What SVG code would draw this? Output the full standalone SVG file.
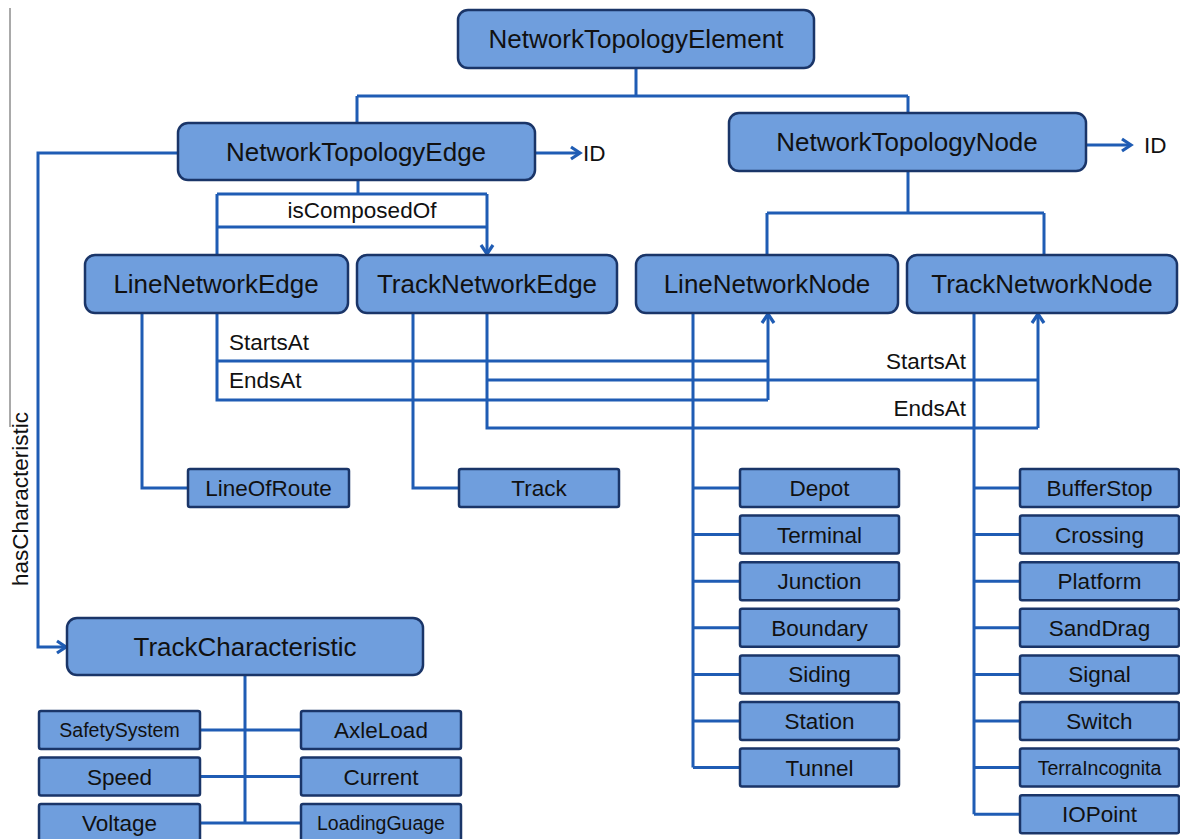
<svg xmlns="http://www.w3.org/2000/svg" width="1180" height="839" viewBox="0 0 1180 839">
<defs>
<style>
.big{fill:#6f9edd;stroke:#1a3568;stroke-width:2.5}
.sm{fill:#6f9edd;stroke:#1a3568;stroke-width:2.5}
.t{font-family:"Liberation Sans",Arial,sans-serif;fill:#111;text-anchor:middle}
.tb{font-size:26px}
.ts{font-size:22.5px}
.tx{font-size:19.5px}
.lb{font-family:"Liberation Sans",Arial,sans-serif;fill:#111;font-size:22.5px}
.c{fill:none;stroke:#1f5cb4;stroke-width:3}
.ca{fill:none;stroke:#1f5cb4;stroke-width:3;marker-end:url(#ah)}
</style>
<marker id="ah" markerUnits="userSpaceOnUse" markerWidth="16" markerHeight="16" refX="12" refY="8" orient="auto">
<path d="M3,2 L12,8 L3,14" fill="none" stroke="#1f5cb4" stroke-width="3.2"/>
</marker>
</defs>
<rect width="1180" height="839" fill="#fff"/>
<line x1="10" y1="8" x2="10" y2="427" stroke="#555" stroke-width="1"/>

<g id="connectors">
<path class="c" d="M636,68 V96 M357,96 H908 M357,96 V123 M908,96 V113"/>
<path class="ca" d="M535,153 H580"/>
<path class="ca" d="M1086,145 H1131"/>
<path class="ca" d="M178,153 H38 V647 H66"/>
<path class="c" d="M358,180 V194 M217,194 H487 M217,227 H487 M217,194 V255"/>
<path class="ca" d="M487,194 V254"/>
<path class="c" d="M908,171 V213 M767,213 H1044 M767,213 V255 M1044,213 V255"/>
<path class="c" d="M217,313 V400 H768 M217,361 H768"/>
<path class="ca" d="M768,400 V314"/>
<path class="c" d="M487,313 V428 H1038 M487,380 H1038"/>
<path class="ca" d="M1038,428 V314"/>
<path class="c" d="M142,313 V488 H188"/>
<path class="c" d="M413,313 V488 H459"/>
<path class="c" d="M693,313 V767.6 M693,488 H740 M693,534.6 H740 M693,581.2 H740 M693,627.8 H740 M693,674.4 H740 M693,721 H740 M693,767.6 H740"/>
<path class="c" d="M974,313 V814.2 M974,488 H1020 M974,534.6 H1020 M974,581.2 H1020 M974,627.8 H1020 M974,674.4 H1020 M974,721 H1020 M974,767.6 H1020 M974,814.2 H1020"/>
<path class="c" d="M245,675 V823 M200,730 H301 M200,776.5 H301 M200,823 H301"/>
</g>

<g id="labels">
<text class="lb" x="583" y="161">ID</text>
<text class="lb" x="1144" y="153">ID</text>
<text class="lb" x="362" y="218" text-anchor="middle" font-size="23">isComposedOf</text>
<text class="lb" x="229" y="350">StartsAt</text>
<text class="lb" x="229" y="388">EndsAt</text>
<text class="lb" x="966" y="369" text-anchor="end">StartsAt</text>
<text class="lb" x="966" y="416" text-anchor="end">EndsAt</text>
<text class="lb" transform="translate(28,499) rotate(-90)" text-anchor="middle" font-size="23">hasCharacteristic</text>
</g>

<g id="NetworkTopologyElement"><rect class="big" x="458" y="10" width="356" height="58" rx="10"/><text class="t tb" x="636" y="48">NetworkTopologyElement</text></g>
<g id="NetworkTopologyEdge"><rect class="big" x="178" y="123" width="357" height="57" rx="10"/><text class="t tb" x="356" y="161">NetworkTopologyEdge</text></g>
<g id="NetworkTopologyNode"><rect class="big" x="729" y="113" width="357" height="58" rx="10"/><text class="t tb" x="907" y="151">NetworkTopologyNode</text></g>
<g id="LineNetworkEdge"><rect class="big" x="85" y="255" width="263" height="58" rx="10"/><text class="t tb" x="216" y="293">LineNetworkEdge</text></g>
<g id="TrackNetworkEdge"><rect class="big" x="357" y="255" width="260" height="58" rx="10"/><text class="t tb" x="487" y="293">TrackNetworkEdge</text></g>
<g id="LineNetworkNode"><rect class="big" x="636" y="255" width="262" height="58" rx="10"/><text class="t tb" x="767" y="293">LineNetworkNode</text></g>
<g id="TrackNetworkNode"><rect class="big" x="907" y="255" width="270" height="58" rx="10"/><text class="t tb" x="1042" y="293">TrackNetworkNode</text></g>
<g id="TrackCharacteristic"><rect class="big" x="67" y="618" width="356" height="57" rx="10"/><text class="t tb" x="245" y="656">TrackCharacteristic</text></g>

<g id="LineOfRoute"><rect class="sm" x="188" y="469" width="161" height="38" rx="2"/><text class="t ts" x="268.5" y="496">LineOfRoute</text></g>
<g id="Track"><rect class="sm" x="459" y="469" width="160" height="38" rx="2"/><text class="t ts" x="539" y="496">Track</text></g>

<g id="Depot"><rect class="sm" x="740" y="469" width="159" height="38" rx="2"/><text class="t ts" x="819.5" y="496">Depot</text></g>
<g id="Terminal"><rect class="sm" x="740" y="515.6" width="159" height="38" rx="2"/><text class="t ts" x="819.5" y="542.6">Terminal</text></g>
<g id="Junction"><rect class="sm" x="740" y="562.2" width="159" height="38" rx="2"/><text class="t ts" x="819.5" y="589.2">Junction</text></g>
<g id="Boundary"><rect class="sm" x="740" y="608.8" width="159" height="38" rx="2"/><text class="t ts" x="819.5" y="635.8">Boundary</text></g>
<g id="Siding"><rect class="sm" x="740" y="655.4" width="159" height="38" rx="2"/><text class="t ts" x="819.5" y="682.4">Siding</text></g>
<g id="Station"><rect class="sm" x="740" y="702" width="159" height="38" rx="2"/><text class="t ts" x="819.5" y="729">Station</text></g>
<g id="Tunnel"><rect class="sm" x="740" y="748.6" width="159" height="38" rx="2"/><text class="t ts" x="819.5" y="775.6">Tunnel</text></g>

<g id="BufferStop"><rect class="sm" x="1020" y="469" width="159" height="38" rx="2"/><text class="t ts" x="1099.5" y="496">BufferStop</text></g>
<g id="Crossing"><rect class="sm" x="1020" y="515.6" width="159" height="38" rx="2"/><text class="t ts" x="1099.5" y="542.6">Crossing</text></g>
<g id="Platform"><rect class="sm" x="1020" y="562.2" width="159" height="38" rx="2"/><text class="t ts" x="1099.5" y="589.2">Platform</text></g>
<g id="SandDrag"><rect class="sm" x="1020" y="608.8" width="159" height="38" rx="2"/><text class="t ts" x="1099.5" y="635.8">SandDrag</text></g>
<g id="Signal"><rect class="sm" x="1020" y="655.4" width="159" height="38" rx="2"/><text class="t ts" x="1099.5" y="682.4">Signal</text></g>
<g id="Switch"><rect class="sm" x="1020" y="702" width="159" height="38" rx="2"/><text class="t ts" x="1099.5" y="729">Switch</text></g>
<g id="TerraIncognita"><rect class="sm" x="1020" y="748.6" width="159" height="38" rx="2"/><text class="t tx" x="1099.5" y="774.6">TerraIncognita</text></g>
<g id="IOPoint"><rect class="sm" x="1020" y="795.2" width="159" height="38" rx="2"/><text class="t ts" x="1099.5" y="822.2">IOPoint</text></g>

<g id="SafetySystem"><rect class="sm" x="39" y="711" width="161" height="38" rx="2"/><text class="t tx" x="119.5" y="737">SafetySystem</text></g>
<g id="Speed"><rect class="sm" x="39" y="757.5" width="161" height="38" rx="2"/><text class="t ts" x="119.5" y="784.5">Speed</text></g>
<g id="Voltage"><rect class="sm" x="39" y="804" width="161" height="40" rx="2"/><text class="t ts" x="119.5" y="831">Voltage</text></g>
<g id="AxleLoad"><rect class="sm" x="301" y="711" width="160" height="38" rx="2"/><text class="t ts" x="381" y="738">AxleLoad</text></g>
<g id="Current"><rect class="sm" x="301" y="757.5" width="160" height="38" rx="2"/><text class="t ts" x="381" y="784.5">Current</text></g>
<g id="LoadingGuage"><rect class="sm" x="301" y="804" width="160" height="40" rx="2"/><text class="t tx" x="381" y="830">LoadingGuage</text></g>
</svg>
